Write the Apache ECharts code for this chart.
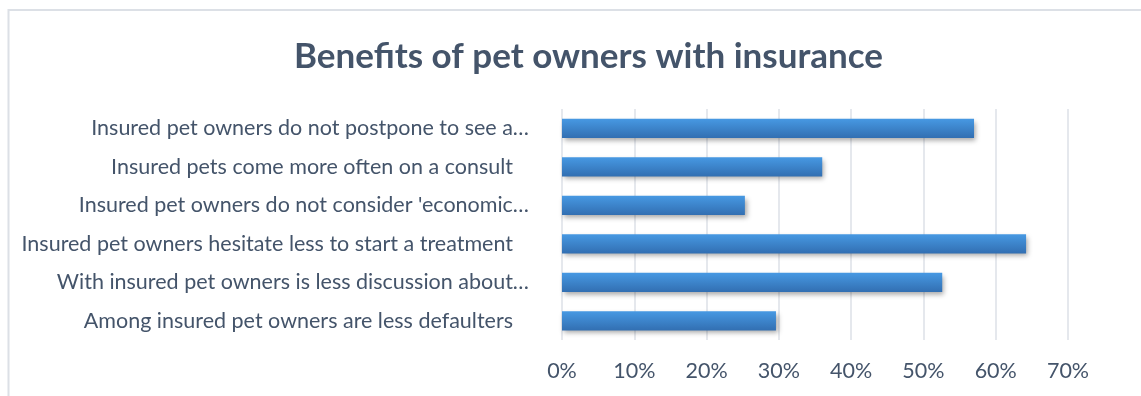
<!DOCTYPE html>
<html>
<head>
<meta charset="utf-8">
<script src="https://cdn.jsdelivr.net/npm/echarts@6/dist/echarts.min.js"></script>
<style>
  html, body { margin: 0; padding: 0; background: #fff; }
  #chart { width: 1141px; height: 396px; }
</style>
</head>
<body>
<div id="chart"></div>
<script>
// Survey statements (top to bottom) as they appear on the axis
const categories = [
  "Insured pet owners do not postpone to see a\u2026",
  "Insured pets come more often on a consult",
  "Insured pet owners do not consider 'economic\u2026",
  "Insured pet owners hesitate less to start a treatment",
  "With insured pet owners is less discussion about\u2026",
  "Among insured pet owners are less defaulters"
];
// Share of respondents agreeing, in percent
const shares = [57, 36, 25.3, 64.2, 52.6, 29.6];
const xTicks = [0, 10, 20, 30, 40, 50, 60, 70];

const textColor = '#44546A';
const fontFamily = 'Lato, "Open Sans", sans-serif';
const labelSize = 21.5;

const chart = echarts.init(document.getElementById('chart'));
chart.setOption({
  animation: false,
  backgroundColor: '#ffffff',
  title: {
    text: 'Benefits of pet owners with insurance',
    left: 289,
    top: 34,
    textStyle: { color: textColor, fontFamily: fontFamily, fontWeight: 'bold', fontSize: 35 }
  },
  graphic: [{
    type: 'rect',
    shape: { x: 8.5, y: 10, width: 1200, height: 500 },
    style: { fill: 'none', stroke: '#DCE0E6', lineWidth: 2 },
    silent: true
  }],
  grid: { left: 562, right: 73, top: 109, bottom: 56, containLabel: false },
  xAxis: {
    type: 'value',
    min: xTicks[0],
    max: xTicks[xTicks.length - 1],
    interval: xTicks[1] - xTicks[0],
    axisLine: { show: false },
    axisTick: { show: false },
    splitLine: { show: true, lineStyle: { color: '#DDE1E7', width: 1.5 } },
    axisLabel: {
      formatter: '{value}%',
      color: textColor, fontFamily: fontFamily, fontSize: labelSize, margin: 20
    }
  },
  yAxis: {
    type: 'category',
    data: categories,
    inverse: true,
    axisLine: { show: false },
    axisTick: { show: false },
    splitLine: { show: false },
    axisLabel: {
      margin: 33,
      formatter: function (v) {
        return v.endsWith('\u2026') ? '{c|' + v + '}' : '{p|' + v + '}';
      },
      rich: {
        c: { color: textColor, fontFamily: fontFamily, fontSize: labelSize },
        p: { color: textColor, fontFamily: fontFamily, fontSize: labelSize, padding: [0, 16, 0, 0] }
      }
    }
  },
  series: [{
    type: 'bar',
    data: shares,
    barCategoryGap: '50%',
    itemStyle: {
      color: new echarts.graphic.LinearGradient(0, 0, 0, 1, [
        { offset: 0, color: '#4799E3' },
        { offset: 1, color: '#326FB2' }
      ]),
      shadowColor: 'rgba(0,0,0,0.35)',
      shadowBlur: 5,
      shadowOffsetX: 2,
      shadowOffsetY: 3
    }
  }]
});
</script>
</body>
</html>
